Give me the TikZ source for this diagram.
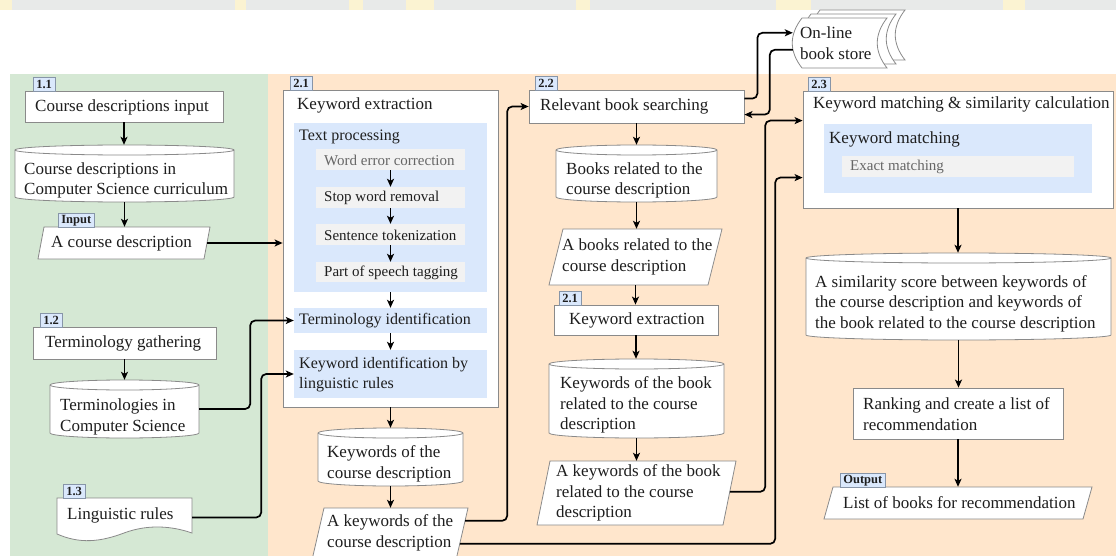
\documentclass[tikz,border=0pt]{standalone}
\usepackage{fontspec}
\setmainfont{Liberation Serif}
\usetikzlibrary{arrows.meta,calc}

\definecolor{panelgreen}{HTML}{D5E8D4}
\definecolor{panelorange}{HTML}{FFE6CC}
\definecolor{bluefill}{HTML}{DAE8FC}
\definecolor{stepfill}{HTML}{F2F2F2}
\definecolor{edgegray}{HTML}{8A8A8A}
\definecolor{tagedge}{HTML}{8795A8}
\definecolor{ink}{HTML}{1E1E1E}
\definecolor{softink}{HTML}{666666}
\definecolor{bandgray}{HTML}{E8EAE9}
\definecolor{paleyellow}{HTML}{FBF3D2}

\newcommand\dgmtext{\fontsize{17}{20.5}\selectfont}
\newcommand\dgmmid{\fontsize{16}{20}\selectfont}
\newcommand\dgmstep{\fontsize{15}{18}\selectfont}
\newcommand\dgmtag{\bfseries\fontsize{12.5}{14}\selectfont}

\tikzset{
  bb/.style n args={4}{minimum width={#3-#1}, minimum height={#4-#2},
                       at={({(#1+#3)/2},{(#2+#4)/2})}},
  frame/.style={draw=edgegray, line width=0.8pt, fill=white, inner sep=0pt},
  panelbox/.style={fill=bluefill, draw=none, inner sep=0pt},
  stepbox/.style={fill=stepfill, draw=none, inner sep=0pt},
  shapebox/.style={draw=none, inner sep=0pt},
  outline/.style={draw=edgegray, line width=0.8pt, fill=white},
  txt/.style={inner sep=0pt, anchor=west, align=left, font=\dgmtext, text=ink},
  midtxt/.style={txt, font=\dgmmid},
  steptxt/.style={txt, font=\dgmstep},
  tag/.style={draw=tagedge, fill=bluefill, line width=0.7pt, inner xsep=3pt,
              inner ysep=0pt, minimum height=14pt, anchor=south west,
              font=\dgmtag, text=ink},
  arr/.style={draw=black, line width=1.7pt, rounded corners=5pt,
              -{Stealth[length=8pt,width=7pt,inset=2pt]}},
}

% database cylinder: name, x0, y0, x1, y1
\newcommand\dbshape[5]{%
  \pgfmathsetmacro\cxm{(#2+#4)/2}%
  \pgfmathsetmacro\ckx{0.5523*(#4-#2)/2}%
  \path[outline] (#2,#3+5) -- (#2,#5-5)
     .. controls (#2,#5-2.24) and (\cxm-\ckx,#5) .. (\cxm,#5)
     .. controls (\cxm+\ckx,#5) and (#4,#5-2.24) .. (#4,#5-5)
     -- (#4,#3+5)
     .. controls (#4,#3+2.24) and (\cxm+\ckx,#3) .. (\cxm,#3)
     .. controls (\cxm-\ckx,#3) and (#2,#3+2.24) .. (#2,#3+5) -- cycle;
  \draw[draw=edgegray, line width=0.8pt] (#2,#3+5)
     .. controls (#2,#3+7.76) and (\cxm-\ckx,#3+10) .. (\cxm,#3+10)
     .. controls (\cxm+\ckx,#3+10) and (#4,#3+7.76) .. (#4,#3+5);
  \node[shapebox, bb={#2}{#3}{#4}{#5}] (#1) {};
}

% data parallelogram: name, x0, y0, x1, y1, slant
\newcommand\slantshape[6]{%
  \path[outline] (#2+#6,#3) -- (#4,#3) -- (#4-#6,#5) -- (#2,#5) -- cycle;
  \node[shapebox, bb={#2}{#3}{#4}{#5}] (#1) {};
}

% one sheet of the stored-data stack: x0, y0, x1, y1
\newcommand\storedsheet[4]{%
  \path[outline] (#1+10,#2) -- (#3,#2)
     .. controls (#3-13,{#2+(#4-#2)/3}) and (#3-13,{#4-(#4-#2)/3}) .. (#3,#4)
     -- (#1+10,#4)
     .. controls (#1-3,{#4-(#4-#2)/3}) and (#1-3,{#2+(#4-#2)/3}) .. (#1+10,#2) -- cycle;
}

\begin{document}
\begin{tikzpicture}[x=1pt,y=-1pt]
\useasboundingbox (0,0) rectangle (1116,556);

% backdrop and the two process panels
\fill[white] (0,0) rectangle (1116,556);
\fill[bandgray] (0,0) rectangle (1116,10);
\foreach \a/\b in {0/12,235/246,349/363,406/434,576/590,776/811,1003/1025}
  \fill[paleyellow] (\a,0) rectangle (\b,10);
\fill[panelgreen] (10,74) rectangle (268,556);
\fill[panelorange] (268,74) rectangle (1116,556);

% ---------- stage 1: inputs ----------
\node[frame, bb={25}{91}{223}{122}] (b11) {};
\node[tag] (t11) at (33,92) {1.1};
\node[txt] (b11-t) at (35,107) {Course descriptions input};

\dbshape{cyl1}{15}{145}{234}{202}
\node[txt] (cyl1-t) at (24,180.5) {Course descriptions in\\Computer Science curriculum};

\slantshape{p1}{38}{227}{210}{259}{6}
\node[tag] (tin) at (58,228) {Input};
\node[txt] (p1-t) at (51,243) {A course description};

\node[frame, bb={33}{327}{216}{359}] (b12) {};
\node[tag] (t12) at (40,328) {1.2};
\node[txt] (b12-t) at (45,343) {Terminology gathering};

\dbshape{cyl2}{50}{380}{199}{438}
\node[txt] (cyl2-t) at (60,417) {Terminologies in\\Computer Science};

\path[outline] (57,498) -- (192,498) -- (192,533)
   .. controls (172,526) and (148,524) .. (124,533)
   .. controls (100,542) and (80,544) .. (57,534) -- cycle;
\node[shapebox, bb={57}{498}{192}{537}] (doc3) {};
\node[tag] (t13) at (63,499) {1.3};
\node[txt] (doc3-t) at (67,515) {Linguistic rules};

% ---------- stage 2.1: keyword extraction ----------
\node[frame, bb={283}{90}{498}{407}] (kx) {};
\node[tag] (t21) at (290,91) {2.1};
\node[txt] (kx-t) at (297,105) {Keyword extraction};

\node[panelbox, bb={294}{123}{487}{292}] (tp) {};
\node[midtxt] (tp-t) at (299,137) {Text processing};
\node[stepbox, bb={316}{149}{465}{170}] (s1) {};
\node[steptxt, text=softink] (s1-t) at (324,160) {Word error correction};
\node[stepbox, bb={316}{187}{465}{208}] (s2) {};
\node[steptxt] (s2-t) at (324,198) {Stop word removal};
\node[stepbox, bb={316}{224}{465}{245}] (s3) {};
\node[steptxt] (s3-t) at (324,235) {Sentence tokenization};
\node[stepbox, bb={316}{262}{465}{282}] (s4) {};
\node[steptxt] (s4-t) at (324,272.5) {Part of speech tagging};

\node[panelbox, bb={294}{308}{487}{333}] (ti) {};
\node[midtxt] (ti-t) at (299,320.5) {Terminology identification};
\node[panelbox, bb={294}{350}{487}{398}] (ki) {};
\node[midtxt] (ki-t) at (299,375) {Keyword identification by\\linguistic rules};

\dbshape{cyl3}{318}{428}{463}{486}
\node[txt] (cyl3-t) at (327,464) {Keywords of the\\course description};

\slantshape{p4}{312}{508}{468}{560}{12}
\node[txt] (p4-t) at (327,533) {A keywords of the\\course description};

% ---------- stage 2.2: book searching ----------
\node[frame, bb={529}{90}{744}{123}] (b22) {};
\node[tag] (t22) at (535,91) {2.2};
\node[txt] (b22-t) at (540,106.5) {Relevant book searching};

\storedsheet{810}{10}{905}{60}
\storedsheet{801}{14}{896}{64}
\storedsheet{792}{18}{887}{68}
\node[shapebox, bb={792}{18}{887}{68}] (store) {};
\node[txt] (store-t) at (800,43) {On-line\\book store};

\dbshape{cyl4}{556}{145}{717}{202}
\node[txt] (cyl4-t) at (566,180.5) {Books related to the\\course description};

\slantshape{p5}{549}{229}{722}{285}{14}
\node[txt] (p5-t) at (562,257) {A books related to the\\course description};

\node[frame, bb={554}{305}{718}{335}] (b21b) {};
\node[tag] (t21b) at (559,306) {2.1};
\node[txt] (b21b-t) at (569,320) {Keyword extraction};

\dbshape{cyl5}{549}{359}{724}{438}
\node[txt] (cyl5-t) at (560,405) {Keywords of the book\\related to the course\\description};

\slantshape{p6}{537}{461}{736}{525}{13}
\node[txt] (p6-t) at (556,493) {A keywords of the book\\related to the course\\description};

% ---------- stage 2.3: matching and ranking ----------
\node[frame, bb={803}{91}{1113}{208}] (b23) {};
\node[tag] (t23) at (808,92) {2.3};
\node[txt] (b23-t) at (813,104) {Keyword matching \& similarity calculation};
\node[panelbox, bb={824}{124}{1092}{193}] (km) {};
\node[txt] (km-t) at (829,139) {Keyword matching};
\node[stepbox, bb={842}{156}{1074}{177}] (em) {};
\node[steptxt, text=softink] (em-t) at (850,167) {Exact matching};

\dbshape{cyl6}{806}{253}{1111}{340}
\node[txt] (cyl6-t) at (815,303.5) {A similarity score between keywords of\\the course description and keywords of\\the book related to the course description};

\node[frame, bb={853}{388}{1063}{439}] (rk) {};
\node[txt] (rk-t) at (863,414) {Ranking and create a list of\\recommendation};

\slantshape{p7}{824}{487}{1092}{519}{9}
\node[tag] (tout) at (840,488) {Output};
\node[txt] (p7-t) at (843,503) {List of books for recommendation};

% ---------- connectors ----------
\foreach \a/\b in {b11/cyl1, cyl1/p1, b12/cyl2,
                   s1/s2, s2/s3, s3/s4, tp/ti, ti/ki, kx/cyl3, cyl3/p4,
                   b22/cyl4, cyl4/p5, p5/b21b, b21b/cyl5, cyl5/p6,
                   b23/cyl6, cyl6/rk, rk/p7}
  \draw[arr] (\a.south) -- (\a.south |- \b.north);

\draw[arr] ($(p1.east)+(-3,0)$) -- (kx.west |- p1.east);
\draw[arr] (cyl2.east) -- ++(51,0) |- (ti.west);
\draw[arr] (doc3.east) -- ++(69,0) |- (ki.west);

\draw[arr] ($(p4.north east)+(-3,13)$) -- ++(42,0) |- (b22.west);
\draw[arr] ($(p4.north east)+(-8.3,36)$) -- ++(315.3,0) |- ($(b23.north west)+(0,87)$);
\draw[arr] ($(p6.north east)+(-6.3,31)$) -- ++(35.3,0) |- ($(b23.north west)+(0,30)$);

\draw[arr] ($(b22.north east)+(0,9)$) -- ++(13,0) |- ($(store.north west)+(1,15)$);
\draw[arr] ($(store.north west)+(1,32)$) -- ++(-23,0) |- ($(b22.north east)+(0,25)$);

\end{tikzpicture}
\end{document}
